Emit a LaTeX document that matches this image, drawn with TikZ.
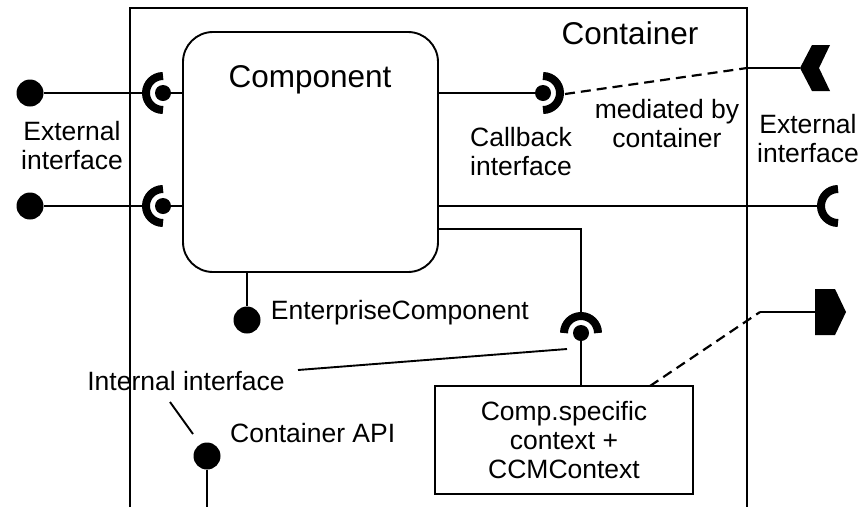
\documentclass[tikz,border=0pt]{standalone}
\usepackage{fontspec}
\setmainfont{Liberation Sans}
\usetikzlibrary{positioning}

\begin{document}
\begin{tikzpicture}[x=1pt, y=-1pt,
      wire/.style={line width=1.9pt},
      cup/.style={line width=8pt},
      link/.style={line width=2.2pt, dash pattern=on 10pt off 6pt},
      ball/.style={circle, fill, inner sep=0pt, minimum size=27pt},
      dot/.style={circle, fill, inner sep=0pt, minimum size=16pt},
      txt/.style={font=\fontsize{26.5}{29}\selectfont, align=center, inner sep=0pt},
      title/.style={font=\fontsize{31.5}{34}\selectfont, inner sep=0pt}
    ]
    \useasboundingbox (0,0) rectangle (862,507);

    \coordinate (frameBL) at (130,507);
    \coordinate (frameTR) at (747,8);
    \coordinate (frameBR) at (747,507);
    \draw [wire] (frameBL) |- (frameTR) -- (frameBR);
    \node(contLbl)[title] at (630,33) {Container};

    \node(comp)[draw, wire, rounded corners=30pt, minimum width=255pt, minimum height=240pt] at (310.5,152) {};
    \node(compLbl)[title] at (310,80) {Component};

    % left external interfaces
    \node(extL1)[ball] at (30,93) {};
    \node(extL2)[ball] at (30,206) {};
    \node(dotL1)[dot] at (163,93) {};
    \node(dotL2)[dot] at (163,206) {};
    \coordinate (cupL1) at (146,93);
    \coordinate (cupL2) at (146,206);
    \draw [cup] (dotL1) ++(0,-17) arc[start angle=270, end angle=90, radius=17];
    \draw [cup] (dotL2) ++(0,-17) arc[start angle=270, end angle=90, radius=17];
    \draw [wire] (extL1) -- (cupL1);
    \draw [wire] (extL2) -- (cupL2);
    \draw [wire] (dotL1) -- (dotL1 -| comp.west);
    \draw [wire] (dotL2) -- (dotL2 -| comp.west);
    \node(extLblL)[txt] at (72,146) {External\\interface};

    % callback interface
    \node(dotCb)[dot] at (543,93) {};
    \draw [cup] (dotCb) ++(0,-17) arc[start angle=-90, end angle=90, radius=17];
    \draw [wire] (comp.east |- dotCb) -- (dotCb);
    \node(cbLbl)[txt] at (521,152) {Callback\\interface};
    \node(medLbl)[txt] at (667,124) {mediated by\\container};
    \coordinate (cbOut) at (565,94);
    \coordinate (cbExit) at (747,68);
    \coordinate (chev) at (800,68);
    \draw [link] (cbOut) -- (cbExit);
    \draw [wire] (cbExit) -- (chev);
    \fill (chev) -- ++(12,-23) -- ++(18,0) -- ++(-11,23) -- ++(11,23) -- ++(-18,0) -- cycle;
    \node(extLblR)[txt] at (808,139) {External\\interface};

    % right external receptacle
    \coordinate (cupR) at (838,206);
    \coordinate (cupRin) at (821,206);
    \draw [cup] (cupR) ++(0,-17) arc[start angle=270, end angle=90, radius=17];
    \draw [wire] (comp.east |- cupR) -- (cupRin);

    % internal interface
    \node(dotIn)[dot] at (581,333) {};
    \coordinate (bendIn) at (581,229);
    \coordinate (cupIn) at (581,316);
    \draw [cup] (dotIn) ++(-17,0) arc[start angle=180, end angle=360, radius=17];
    \draw [wire] (comp.east |- bendIn) -- (bendIn) -- (cupIn);
    \node(ctx)[draw, wire, txt, minimum width=258pt, minimum height=108pt] at (564,440) {Comp.specific\\context +\\CCMContext};
    \draw [wire] (dotIn) -- (ctx.north -| dotIn);
    \coordinate (ctxTop) at (650,386);
    \coordinate (ctxExit) at (760,312);
    \coordinate (pent) at (815,312);
    \draw [link] (ctxTop) -- (ctxExit);
    \draw [wire] (ctxExit) -- (pent);
    \fill (pent) ++(0,-23) -- ++(20,0) -- ++(11,23) -- ++(-11,23) -- ++(-20,0) -- cycle;

    % enterprise component
    \node(entBall)[ball] at (247,320) {};
    \draw [wire] (comp.south -| entBall) -- (entBall);
    \node(entLbl)[txt, right=10pt of entBall, yshift=7pt] {EnterpriseComponent};

    % container API
    \node(intLbl)[txt] at (186,381) {Internal interface};
    \coordinate (intA) at (298,370);
    \coordinate (intB) at (567,349);
    \coordinate (intC) at (170,402);
    \coordinate (intD) at (193,434);
    \draw [wire] (intA) -- (intB);
    \draw [wire] (intC) -- (intD);
    \node(apiBall)[ball] at (207,456) {};
    \coordinate (apiEnd) at (207,507);
    \draw [wire] (apiBall) -- (apiEnd);
    \node(apiLbl)[txt, anchor=west] at (230,433) {Container API};
\end{tikzpicture}
\end{document}
